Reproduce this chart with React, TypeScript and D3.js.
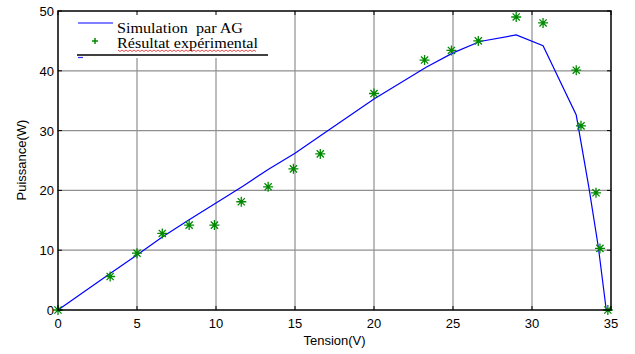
import React, { useEffect, useRef } from "react";
import * as d3 from "d3";

// Simulation (AG) curve
const simTension = [0, 3.3, 5, 6.6, 8.3, 10, 11.7, 13.3, 15, 16.7, 20, 23.3, 25, 26.7, 29, 30.7, 32.8, 33.6, 34.2, 34.7];
const simPuissance = [0, 6.1, 9.2, 12.2, 15.1, 17.9, 20.7, 23.5, 26.2, 29.3, 35.3, 40.6, 43.0, 44.9, 46.0, 44.2, 32.6, 20.5, 10.5, 0];

// Experimental measurements
const expTension = [0, 3.3, 5, 6.6, 8.3, 9.9, 11.6, 13.3, 14.9, 16.6, 20, 23.2, 24.9, 26.6, 29, 30.7, 32.8, 33.1, 34.05, 34.3, 34.8];
const expPuissance = [0, 5.6, 9.5, 12.8, 14.2, 14.2, 18.1, 20.6, 23.6, 26.1, 36.2, 41.8, 43.4, 45.0, 49.0, 48.0, 40.1, 30.8, 19.6, 10.3, 0];

const xTicks = [0, 5, 10, 15, 20, 25, 30, 35];
const yTicks = [0, 10, 20, 30, 40, 50];
const legendLabels = ["Simulation  par AG", "Résultat expérimental"];

const STAR = "M-5,0H5M0,-5V5M-3.6,-3.6L3.6,3.6M-3.6,3.6L3.6,-3.6";

export default function App() {
  const svgRef = useRef<SVGSVGElement>(null);
  const width = 635;
  const height = 354;

  useEffect(() => {
    const svg = d3.select(svgRef.current);
    svg.selectAll("*").remove();

    const margin = { top: 11, right: 24, bottom: 44, left: 58 };
    const x = d3.scaleLinear().domain([0, 35]).range([margin.left, width - margin.right]);
    const y = d3.scaleLinear().domain([0, 50]).range([height - margin.bottom, margin.top]);
    const x0 = margin.left, x1 = width - margin.right;
    const y0 = height - margin.bottom, y1 = margin.top;

    svg.append("rect").attr("width", width).attr("height", height).attr("fill", "#fff");

    // grid
    const grid = svg.append("g").attr("stroke", "#8f8f8f").attr("stroke-width", 1.2);
    grid.selectAll("line.v").data(xTicks.slice(1, -1)).join("line")
      .attr("x1", (d) => x(d)).attr("x2", (d) => x(d)).attr("y1", y0).attr("y2", y1);
    grid.selectAll("line.h").data(yTicks.slice(1, -1)).join("line")
      .attr("y1", (d) => y(d)).attr("y2", (d) => y(d)).attr("x1", x0).attr("x2", x1);

    // legend background hides the grid beneath it
    svg.append("rect").attr("x", x0 + 1).attr("y", y1 + 1).attr("width", 212).attr("height", 46).attr("fill", "#fff");

    // inner tick marks on all sides
    const ticks = svg.append("g").attr("stroke", "#000").attr("stroke-width", 1);
    ticks.selectAll("line.b").data(xTicks).join("line")
      .attr("x1", (d) => x(d)).attr("x2", (d) => x(d)).attr("y1", y0).attr("y2", y0 - 4);
    ticks.selectAll("line.t").data(xTicks).join("line")
      .attr("x1", (d) => x(d)).attr("x2", (d) => x(d)).attr("y1", y1).attr("y2", y1 + 4);
    ticks.selectAll("line.l").data(yTicks).join("line")
      .attr("y1", (d) => y(d)).attr("y2", (d) => y(d)).attr("x1", x0).attr("x2", x0 + 4);
    ticks.selectAll("line.r").data(yTicks).join("line")
      .attr("y1", (d) => y(d)).attr("y2", (d) => y(d)).attr("x1", x1).attr("x2", x1 - 4);

    // simulation line
    const line = d3.line<number>()
      .x((d, i) => x(simTension[i]))
      .y((d) => y(d));
    svg.append("path").datum(simPuissance).attr("d", line)
      .attr("fill", "none").attr("stroke", "#0000ff").attr("stroke-width", 1.2);

    // experimental stars
    svg.append("g").selectAll("path").data(expPuissance).join("path")
      .attr("d", STAR)
      .attr("transform", (d, i) => `translate(${x(expTension[i])},${y(d)})`)
      .attr("fill", "none").attr("stroke", "#008a00").attr("stroke-width", 1.3);

    // axes box
    svg.append("rect").attr("x", x0).attr("y", y1).attr("width", x1 - x0).attr("height", y0 - y1)
      .attr("fill", "none").attr("stroke", "#000").attr("stroke-width", 1.5);

    // tick labels
    const font = "'Liberation Sans', Arial, sans-serif";
    svg.append("g").selectAll("text").data(xTicks).join("text")
      .attr("x", (d) => x(d)).attr("y", y0 + 18).attr("text-anchor", "middle")
      .attr("font-family", font).attr("font-size", 13).text((d) => d);
    svg.append("g").selectAll("text").data(yTicks).join("text")
      .attr("x", x0 - 4).attr("y", (d) => y(d) + 5).attr("text-anchor", "end")
      .attr("font-family", font).attr("font-size", 13).text((d) => d);

    svg.append("text").attr("x", x(17.5)).attr("y", 345).attr("text-anchor", "middle")
      .attr("font-family", font).attr("font-size", 13).text("Tension(V)");
    svg.append("text").attr("transform", "translate(26,160) rotate(-90)").attr("text-anchor", "middle")
      .attr("font-family", font).attr("font-size", 13).text("Puissance(W)");

    // legend
    const serif = "'Liberation Serif', 'Times New Roman', serif";
    const lg = svg.append("g");
    lg.append("line").attr("x1", 78).attr("x2", 113).attr("y1", 23).attr("y2", 23)
      .attr("stroke", "#0000ff").attr("stroke-width", 1.2);
    lg.append("path").attr("d", "M-3,0H3M0,-3V3").attr("transform", "translate(95,41)")
      .attr("stroke", "#008a00").attr("stroke-width", 1.5);
    lg.selectAll("text").data(legendLabels).join("text")
      .attr("x", 117).attr("y", (d, i) => 32.5 + i * 15)
      .attr("font-family", serif).attr("font-size", 15)
      .attr("textLength", (d, i) => (i === 0 ? 126 : 141))
      .attr("lengthAdjust", "spacingAndGlyphs")
      .style("white-space", "pre")
      .text((d) => d);
    // spell-check squiggle under the French label
    const squiggle = d3.range(118, 258, 2).map((px, i) => [px, i % 2 ? 51.5 : 50] as [number, number]);
    lg.append("path").attr("d", d3.line()(squiggle)).attr("fill", "none")
      .attr("stroke", "#e02020").attr("stroke-width", 0.8);
    lg.append("line").attr("x1", 77).attr("x2", 268).attr("y1", 55).attr("y2", 55)
      .attr("stroke", "#000").attr("stroke-width", 1.5);
    lg.append("line").attr("x1", 78).attr("x2", 83).attr("y1", 57.5).attr("y2", 57.5)
      .attr("stroke", "#3030ff").attr("stroke-width", 1.2);
  }, []);

  return (
    <svg
      ref={svgRef}
      width={width}
      height={height}
      style={{ position: "absolute", left: 0, top: 0, display: "block" }}
    ></svg>
  );
}
